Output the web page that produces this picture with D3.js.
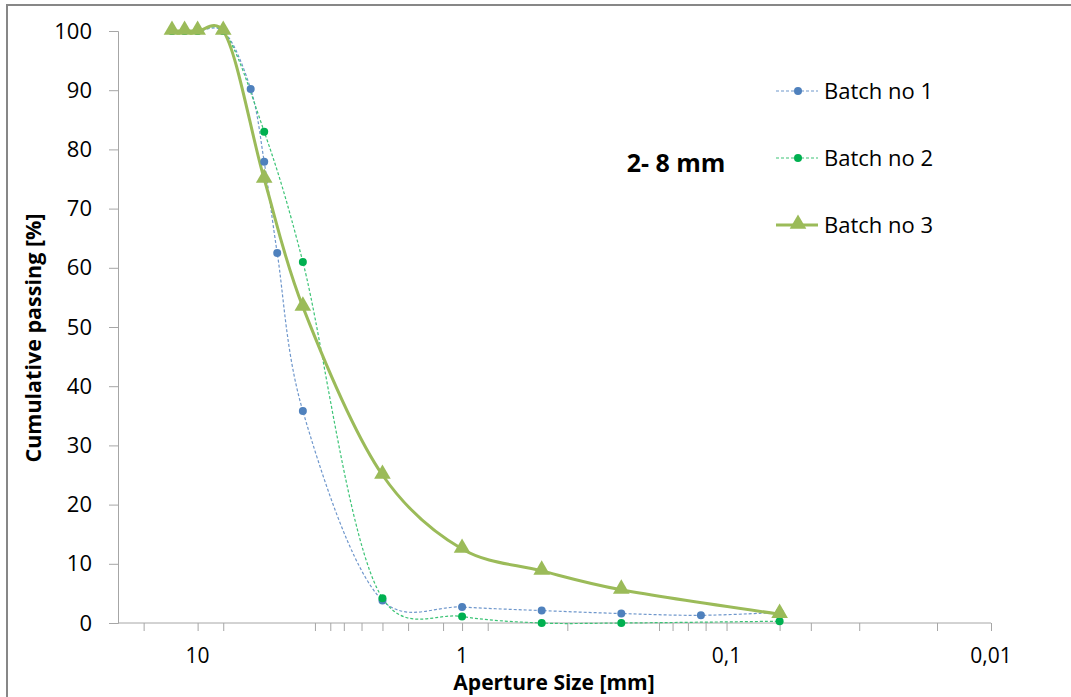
<!DOCTYPE html>
<html>
<head>
<meta charset="utf-8">
<script src="https://cdn.jsdelivr.net/npm/d3@7"></script>
<style>
  body { margin: 0; background: #fff; }
  svg { display: block; font-family: "Open Sans", Lato, sans-serif; }
</style>
</head>
<body>
<svg id="chart" width="1071" height="697"></svg>
<script>
// sieve apertures [mm]
var sizes1 = [12.5, 11.2, 10, 8, 6.3, 5.6, 5, 4, 2, 1, 0.5, 0.25, 0.125, 0.063];
var batch1 = [100, 100, 100, 100, 90.2, 77.9, 62.5, 35.8, 3.8, 2.7, 2.1, 1.6, 1.3, 1.8];

var sizes2 = [12.5, 11.2, 10, 8, 5.6, 4, 2, 1, 0.5, 0.25, 0.063];
var batch2 = [100, 100, 100, 100, 83, 61, 4.2, 1.1, 0, 0, 0.3];

var sizes3 = [12.5, 11.2, 10, 8, 5.6, 4, 2, 1, 0.5, 0.25, 0.063];
var batch3 = [100, 100, 100, 100, 75, 53.4, 25, 12.5, 8.8, 5.6, 1.5];

var seriesNames = ["Batch no 1", "Batch no 2", "Batch no 3"];
var xLabelValues = [10, 1, 0.1, 0.01];
var xTickValues = [16, 10, 8, 3.6, 3.15, 2.8, 2.4, 2, 1.6, 1.18, 1, 0.8, 0.4,
                   0.18, 0.16, 0.14, 0.12, 0.1, 0.063, 0.048, 0.0315, 0.016, 0.01];
var yTickValues = [0, 10, 20, 30, 40, 50, 60, 70, 80, 90, 100];

var svg = d3.select("#chart");
var axisColor = "#a6a6a6";

// chart frame (top + left edges visible)
svg.append("path")
    .attr("d", "M7,697 L7,5 L1071,5")
    .attr("fill", "none")
    .attr("stroke", "#878787")
    .attr("stroke-width", 2);

var x = d3.scaleLog().domain([20, 0.01]).range([118, 991]);
var y = d3.scaleLinear().domain([0, 100]).range([623, 31]);

// y axis
var yAxis = svg.append("g")
    .attr("transform", "translate(118,0)")
    .call(d3.axisLeft(y).tickValues(yTickValues).tickSize(9).tickPadding(17));
yAxis.select(".domain").attr("stroke", axisColor);
yAxis.selectAll(".tick line").attr("stroke", axisColor);
yAxis.selectAll(".tick text")
    .attr("font-size", 22)
    .attr("fill", "#000")
    .attr("font-family", "'Open Sans', sans-serif");

// x axis: minor ticks, then labels
var xAxis = svg.append("g")
    .attr("transform", "translate(0,623)")
    .call(d3.axisBottom(x).tickValues(xTickValues).tickSize(8).tickFormat(""));
xAxis.select(".domain").attr("stroke", axisColor).attr("d", "M118,0H991");
xAxis.selectAll(".tick line").attr("stroke", axisColor);

svg.append("g").selectAll("text")
    .data(xLabelValues)
    .join("text")
    .attr("x", function (d) { return x(d); })
    .attr("y", 663)
    .attr("text-anchor", "middle")
    .attr("font-size", 21)
    .text(function (d) { return String(d).replace(".", ","); });

// axis titles
svg.append("text")
    .attr("x", 554)
    .attr("y", 690)
    .attr("text-anchor", "middle")
    .attr("font-size", 21)
    .attr("font-weight", "bold")
    .text("Aperture Size [mm]");

svg.append("text")
    .attr("transform", "translate(41,338) rotate(-90)")
    .attr("text-anchor", "middle")
    .attr("font-size", 21.5)
    .attr("font-weight", "bold")
    .text("Cumulative passing [%]");

svg.append("text")
    .attr("x", 676)
    .attr("y", 172)
    .attr("text-anchor", "middle")
    .attr("font-size", 25)
    .attr("font-weight", "bold")
    .text("2- 8 mm");

function pts(sizes, vals) {
    return sizes.map(function (s, i) { return [x(s), y(vals[i])]; });
}

var line = d3.line().curve(d3.curveCatmullRom.alpha(0.25));
var tri = d3.symbol().type(d3.symbolTriangle).size(120);

var series = [
    {name: seriesNames[0], p: pts(sizes1, batch1), color: "#4f81bd", lc: "#6f97cc", w: 1.2, dash: "3,2", marker: "circle"},
    {name: seriesNames[1], p: pts(sizes2, batch2), color: "#00b050", lc: "#3cc476", w: 1.2, dash: "3,2", marker: "circle"},
    {name: seriesNames[2], p: pts(sizes3, batch3), color: "#9bbb59", lc: "#9bbb59", w: 3, dash: null, marker: "tri"}
];

series.forEach(function (s) {
    svg.append("path")
        .attr("d", line(s.p))
        .attr("fill", "none")
        .attr("stroke", s.lc)
        .attr("stroke-width", s.w)
        .attr("stroke-dasharray", s.dash);
});

series.forEach(function (s) {
    var g = svg.append("g");
    if (s.marker === "circle") {
        g.selectAll("circle").data(s.p).join("circle")
            .attr("cx", function (d) { return d[0]; })
            .attr("cy", function (d) { return d[1]; })
            .attr("r", 4)
            .attr("fill", s.color);
    } else {
        g.selectAll("path").data(s.p).join("path")
            .attr("d", tri)
            .attr("transform", function (d) { return "translate(" + d[0] + "," + (d[1] - 1) + ")"; })
            .attr("fill", s.color);
    }
});

// legend
var leg = svg.append("g");
series.forEach(function (s, i) {
    var ly = 91 + i * 67;
    leg.append("line")
        .attr("x1", 776).attr("x2", 818)
        .attr("y1", ly).attr("y2", ly)
        .attr("stroke", s.lc)
        .attr("stroke-width", s.w)
        .attr("stroke-dasharray", s.dash);
    if (s.marker === "circle") {
        leg.append("circle").attr("cx", 798).attr("cy", ly).attr("r", 4).attr("fill", s.color);
    } else {
        leg.append("path").attr("d", tri).attr("transform", "translate(798," + (ly - 1) + ")").attr("fill", s.color);
    }
    leg.append("text")
        .attr("x", 824)
        .attr("y", ly + 8)
        .attr("font-size", 22)
        .text(s.name);
});
</script>
</body>
</html>
